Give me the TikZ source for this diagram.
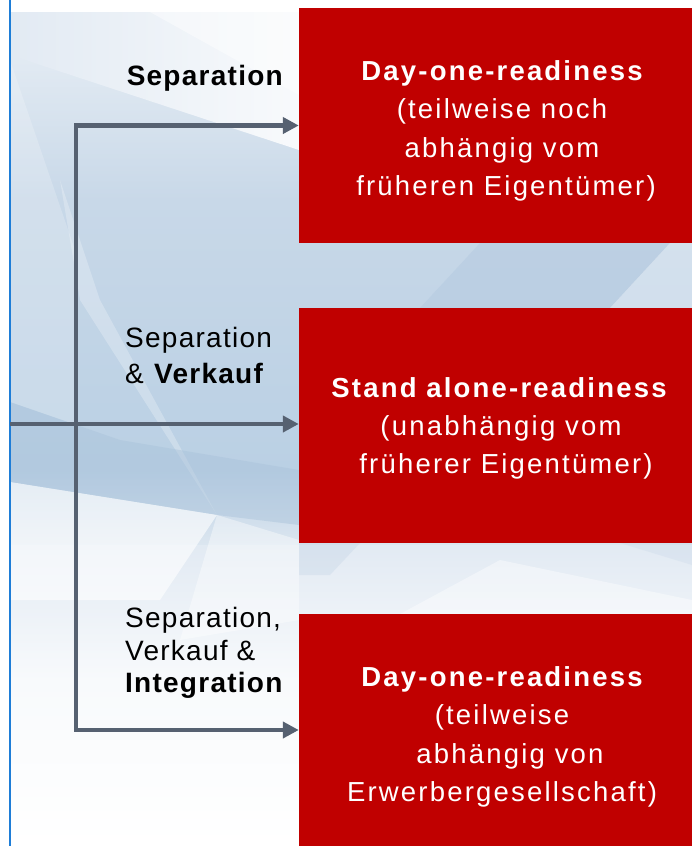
\documentclass[tikz,border=0pt]{standalone}
\usepackage{fontspec}
\setmainfont{Liberation Sans}
\newfontfamily\boxfont[LetterSpace=8]{Liberation Sans}
\newfontfamily\labfont[LetterSpace=4.5]{Liberation Sans}
\usetikzlibrary{arrows.meta}
\definecolor{boxred}{HTML}{C00000}
\definecolor{arrowgray}{HTML}{566171}
\definecolor{edgeblue}{RGB}{30,125,215}
\definecolor{bgA}{HTML}{EAF0F6}
\definecolor{bgB}{HTML}{C8D8E8}
\definecolor{bgC}{HTML}{BAD0E4}
\definecolor{bgD}{HTML}{E2EAF3}
\definecolor{bgE}{HTML}{F8FAFC}
\definecolor{bgF}{HTML}{DCE6F0}
\definecolor{facetdark}{HTML}{A9C2DA}
\tikzset{
  redbox/.style={fill=boxred, draw=none, inner sep=0pt, minimum width=393pt},
  boxtxt/.style={text=white, font=\boxfont\fontsize{27.5}{33}\selectfont, inner sep=0pt, anchor=base},
  labtxt/.style={text=black, font=\labfont\fontsize{28}{33}\selectfont, inner sep=0pt},
  conn/.style={draw=arrowgray, line width=4.5pt, line join=miter, -{Triangle[length=16pt,width=16pt]}},
  edgeline/.style={draw=edgeblue, line width=2pt},
}
\begin{document}
\begin{tikzpicture}[x=1pt,y=-1pt]
\useasboundingbox (0,0) rectangle (692,846);
\fill[white] (0,0) rectangle (692,846);
% background gradient
\shade[top color=bgA, bottom color=bgB] (10,12) rectangle (692,200.5);
\shade[top color=bgB, bottom color=bgC] (10,200) rectangle (692,470.5);
\shade[top color=bgC, bottom color=bgF] (10,470) rectangle (692,545.5);
\shade[top color=bgD, bottom color=bgE] (10,545) rectangle (692,680.5);
\shade[top color=bgE, bottom color=white] (10,680) rectangle (692,846);
% facets
\shade[left color=bgD, right color=bgE] (10,12) -- (299,12) -- (299,150) -- (10,55) -- cycle;
\fill[white, opacity=.45] (150,12) -- (299,12) -- (299,95) -- cycle;
\fill[white, opacity=.2] (10,60) -- (75,250) -- (75,424.5) -- (10,402) -- cycle;
\fill[white, opacity=.25] (60,180) -- (100,300) -- (217,515) -- (80,300) -- cycle;
\fill[facetdark, opacity=.45] (10,402) -- (120,440) -- (299,470) -- (299,525) -- (217,515) -- (10,482) -- cycle;
\fill[white, opacity=.6] (10,482) -- (217,515) -- (160,600) -- (10,600) -- cycle;
\fill[white, opacity=.4] (217,515) -- (299,540) -- (299,620) -- (180,640) -- cycle;
\fill[facetdark, opacity=.3] (420,308) -- (480,243) -- (670,243) -- (610,308) -- cycle;
\fill[white, opacity=.25] (670,243) -- (692,243) -- (692,308) -- (610,308) -- cycle;
\fill[facetdark, opacity=.2] (299,543) -- (360,543) -- (330,575) -- (299,575) -- cycle;
\fill[facetdark, opacity=.15] (620,543) -- (692,543) -- (692,565) -- cycle;
\fill[white, opacity=.4] (400,614) -- (500,560) -- (692,600) -- (692,614) -- cycle;
% left blue edge
\coordinate (etop) at (10,0);
\coordinate (ebot) at (10,846);
\draw[edgeline] (etop) -- (ebot);
% boxes
\node[redbox, minimum height=235pt] (b1) at (495.5,125.5) {};
\node[redbox, minimum height=235pt] (b2) at (495.5,425.5) {};
\node[redbox, minimum height=232pt] (b3) at (495.5,730) {};
% box texts
\node[boxtxt] (t1a) at (502,80) {\bfseries Day-one-readiness};
\node[boxtxt] (t1b) at (502,118) {(teilweise noch};
\node[boxtxt] (t1c) at (502,157) {abhängig vom};
\node[boxtxt] (t1d) at (506,195) {früheren Eigentümer)};
\node[boxtxt] (t2a) at (499,397) {\bfseries Stand alone-readiness};
\node[boxtxt] (t2b) at (501,435) {(unabhängig vom};
\node[boxtxt] (t2c) at (506,473) {früherer Eigentümer)};
\node[boxtxt] (t3a) at (502,686) {\bfseries Day-one-readiness};
\node[boxtxt] (t3b) at (502,724) {(teilweise};
\node[boxtxt] (t3c) at (510,763) {abhängig von};
\node[boxtxt] (t3d) at (502,801) {Erwerbergesellschaft)};
% labels
\node[labtxt, anchor=base east] (l1) at (283,85.5) {\bfseries Separation};
\node[labtxt, anchor=base west] (l2a) at (125,347) {Separation};
\node[labtxt, anchor=base west] (l2b) at (125,383) {\& \textbf{Verkauf}};
\node[labtxt, anchor=base west] (l3a) at (125,627) {Separation,};
\node[labtxt, anchor=base west] (l3b) at (125,660) {Verkauf \&};
\node[labtxt, anchor=base west] (l3c) at (125,692) {\textbf{Integration}};
% connectors
\coordinate (start) at (10,424);
\coordinate (j) at (76,424);
\draw[conn] (start) -- (start -| b2.west);
\draw[conn] (j) |- (b1.west);
\draw[conn] (j) |- (b3.west);
\end{tikzpicture}
\end{document}
